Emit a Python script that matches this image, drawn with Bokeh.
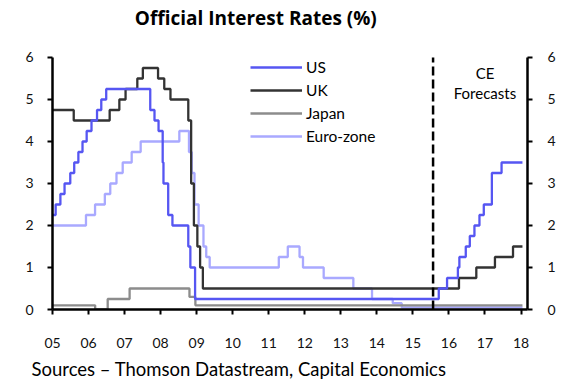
import datetime as dt
from bokeh.plotting import figure
from bokeh.models import (LinearAxis, FixedTicker, Label, Legend, LegendItem,
                          Title, Range1d)
from bokeh.embed import file_html
from bokeh.resources import INLINE

FONT = "Lato"

# ---- data (policy rate change dates and new rates, %) ----
END = 2018.04
FORECAST_START = 2015.56

us_dates = ["2005-01-01", "2005-02-02", "2005-03-22", "2005-05-03", "2005-06-30",
            "2005-08-09", "2005-09-20", "2005-11-01", "2005-12-13", "2006-01-31",
            "2006-03-28", "2006-05-10", "2006-06-29", "2007-09-18", "2007-10-31",
            "2007-12-11", "2008-01-22", "2008-01-30", "2008-03-18", "2008-04-30",
            "2008-10-08", "2008-10-29", "2008-12-16", "2015-09-20", "2015-12-13",
            "2016-04-01", "2016-04-16", "2016-06-20", "2016-07-31", "2016-09-16",
            "2016-11-06", "2016-12-20", "2017-03-12", "2017-06-18"]
us_rates = [2.25, 2.5, 2.75, 3.0, 3.25, 3.5, 3.75, 4.0, 4.25, 4.5, 4.75, 5.0, 5.25,
            4.75, 4.5, 4.25, 3.5, 3.0, 2.25, 2.0, 1.5, 1.0, 0.25, 0.5, 0.75,
            1.0, 1.25, 1.5, 1.75, 2.0, 2.25, 2.5, 3.25, 3.5]

uk_dates = ["2005-01-01", "2005-08-04", "2006-08-03", "2006-11-09", "2007-01-11",
            "2007-05-10", "2007-07-05", "2007-12-06", "2008-02-07", "2008-04-10",
            "2008-10-08", "2008-11-06", "2008-12-04", "2009-01-08", "2009-02-05",
            "2009-03-05", "2016-04-12", "2016-10-05", "2017-04-12", "2017-10-12"]
uk_rates = [4.75, 4.5, 4.75, 5.0, 5.25, 5.5, 5.75, 5.5, 5.25, 5.0, 4.5, 3.0, 2.0,
            1.5, 1.0, 0.5, 0.75, 1.0, 1.25, 1.5]

jp_dates = ["2005-01-01", "2006-03-09", "2006-07-14", "2007-02-21", "2008-10-20",
            "2008-12-19"]
jp_rates = [0.1, 0.0, 0.25, 0.5, 0.3, 0.1]

ez_dates = ["2005-01-01", "2005-12-06", "2006-03-08", "2006-06-15", "2006-08-09",
            "2006-10-11", "2006-12-13", "2007-03-14", "2007-06-13", "2008-07-09",
            "2008-10-15", "2008-11-12", "2008-12-10", "2009-01-21", "2009-03-11",
            "2009-04-08", "2009-05-13", "2011-04-13", "2011-07-13", "2011-11-09",
            "2011-12-14", "2012-07-11", "2013-05-08", "2013-11-13", "2014-06-11",
            "2014-09-10"]
ez_rates = [2.0, 2.25, 2.5, 2.75, 3.0, 3.25, 3.5, 3.75, 4.0, 4.25, 3.75, 3.25, 2.5,
            2.0, 1.5, 1.25, 1.0, 1.25, 1.5, 1.25, 1.0, 0.75, 0.5, 0.25, 0.15, 0.05]

x_ticks = list(range(2005, 2019))
x_tick_labels = ["05", "06", "07", "08", "09", "10", "11", "12", "13", "14", "15",
                 "16", "17", "18"]
y_ticks = [0, 1, 2, 3, 4, 5, 6]

series_names = ["US", "UK", "Japan", "Euro-zone"]
series_colors = ["#5656f2", "#333333", "#8c8c8c", "#a9a9ff"]

TITLE = "Official Interest Rates (%)"
SOURCE = "Sources \u2013 Thomson Datastream, Capital Economics"

Y_MIN, Y_MAX = y_ticks[0], y_ticks[-1]
# headroom above the top tick keeps the chart title inside the drawing area
Y_TOP = 7.357


def to_year(s):
    d = dt.date.fromisoformat(s)
    start = dt.date(d.year, 1, 1)
    days = (dt.date(d.year + 1, 1, 1) - start).days
    return d.year + (d - start).days / days


def step_xy(dates, rates):
    xs = [to_year(s) for s in dates] + [END]
    ys = list(rates) + [rates[-1]]
    return xs, ys


p = figure(width=581, height=388, output_backend="svg", toolbar_location=None,
           x_range=Range1d(2005, 2018.18), y_range=Range1d(Y_MIN, Y_TOP),
           x_axis_location=None, y_axis_location=None,
           min_border_left=52, min_border_right=54, min_border_top=0,
           min_border_bottom=79)
p.title = None
p.outline_line_color = None
p.xgrid.visible = False
p.ygrid.visible = False
p.background_fill_color = "white"
p.border_fill_color = "white"


def style_axis(ax, standoff):
    ax.axis_line_width = 2.5
    ax.axis_line_color = "black"
    ax.major_tick_line_width = 2
    ax.major_tick_line_color = "black"
    ax.major_tick_out = 5
    ax.major_tick_in = 0
    ax.minor_tick_line_color = None
    ax.major_label_text_font = FONT
    ax.major_label_text_font_size = "14px"
    ax.major_label_text_color = "#111111"
    ax.major_label_standoff = standoff


xaxis = LinearAxis(ticker=FixedTicker(ticks=x_ticks),
                   major_label_overrides={t: l for t, l in zip(x_ticks, x_tick_labels)})
style_axis(xaxis, 23)
p.add_layout(xaxis, "below")

yl = LinearAxis(ticker=FixedTicker(ticks=y_ticks), bounds=(Y_MIN, Y_MAX))
style_axis(yl, 14)
p.add_layout(yl, "left")
yr = LinearAxis(ticker=FixedTicker(ticks=y_ticks), bounds=(Y_MIN, Y_MAX))
style_axis(yr, 15)
p.add_layout(yr, "right")

src = Title(text=SOURCE,
            text_font=FONT, text_font_size="18.5px", text_font_style="normal",
            align="left", offset=-21, standoff=11, text_color="#000000")
p.add_layout(src, "below")

# chart title
p.add_layout(Label(x=2010.64, y=6.93, text=TITLE, text_align="center",
                   text_baseline="middle", text_font="Open Sans",
                   text_font_size="19px", text_font_style="bold",
                   text_color="#000000"))

# series
data = [step_xy(us_dates, us_rates), step_xy(uk_dates, uk_rates),
        step_xy(jp_dates, jp_rates), step_xy(ez_dates, ez_rates)]
renderers = {}
for idx in [3, 2, 1, 0]:
    xs, ys = data[idx]
    r = p.step(xs, ys, mode="after", line_width=2.3, line_color=series_colors[idx])
    renderers[idx] = r

# forecast divider
p.segment(x0=[FORECAST_START], y0=[Y_MIN], x1=[FORECAST_START], y1=[Y_MAX],
          line_color="black", line_width=2.5, line_dash="9 4")
p.add_layout(Label(x=2017.0, y=5.64, text="CE", text_align="center",
                   text_baseline="middle", text_font=FONT, text_font_size="15px",
                   text_color="#000000"))
p.add_layout(Label(x=2017.0, y=5.16, text="Forecasts", text_align="center",
                   text_baseline="middle", text_font=FONT, text_font_size="15px",
                   text_color="#000000"))

legend = Legend(items=[LegendItem(label=series_names[i], renderers=[renderers[i]])
                       for i in range(4)],
                location=(198, 163), orientation="vertical",
                glyph_width=52, glyph_height=20, label_height=20, spacing=3,
                label_standoff=4, padding=0, margin=0,
                border_line_color=None, background_fill_alpha=0,
                label_text_font=FONT, label_text_font_size="15.5px",
                label_text_color="#000000")
p.add_layout(legend, "center")

open("out.html", "w").write(file_html(p, INLINE))
